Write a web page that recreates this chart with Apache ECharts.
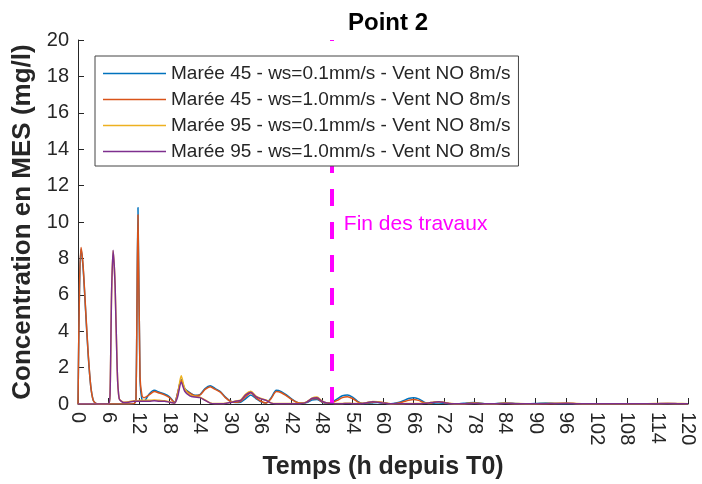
<!DOCTYPE html>
<html><head><meta charset="utf-8">
<script src="https://cdn.jsdelivr.net/npm/echarts@6/dist/echarts.min.js"></script>
<style>html,body{margin:0;padding:0;background:#fff}#c{width:702px;height:484px}</style>
</head><body><div id="c"></div>
<script>
const title = 'Point 2';
const xName = 'Temps (h depuis T0)';
const yName = 'Concentration en MES (mg/l)';
const seriesNames = [
  'Marée 45 - ws=0.1mm/s - Vent NO 8m/s',
  'Marée 45 - ws=1.0mm/s - Vent NO 8m/s',
  'Marée 95 - ws=0.1mm/s - Vent NO 8m/s',
  'Marée 95 - ws=1.0mm/s - Vent NO 8m/s'
];
const finTravauxHour = 50;
const finTravauxLabel = 'Fin des travaux';
const finLabelPos = [52.3, 9.9];

const hours = [
  0,0.3,0.6,1,1.5,2,2.5,3,3.5,4,
  5,6,6.3,6.6,6.9,7.3,7.7,8.1,9,10,11,
  11.4,11.8,12.2,12.6,13,
  14,15,16,17,18,19,
  19.6,20.3,21,
  22,23,24,25,26,27,28,29,30,31,
  32,33,34,35,36,37,38,39,40,41,
  42,43,44,45,46,47,48,49,50,51,
  52,53,54,55,56,57,58,59,60,61,
  62,63,64,65,66,67,68,69,70,71,
  72,73,74,75,76,77,78,79,80,
  82,84,86,88,90,92,94,96,98,100,
  102,104,106,108,110,112,114,116,118,120
];

const m45ws01 = [
  0,6.4,8.5,7.5,5.1,2.7,1.0,0.2,0.03,0,
  0,0,0,0,0,0,0,0,0,0,0.02,
  0.2,10.8,1.3,0.2,0.15,
  0.55,0.75,0.65,0.55,0.4,0.1,
  0.6,1.35,0.85,
  0.62,0.48,0.52,0.85,1.0,0.85,0.68,0.38,0.15,0.08,
  0.1,0.3,0.5,0.3,0.12,0.05,0.35,0.75,0.68,0.5,
  0.28,0.1,0.05,0.08,0.22,0.25,0.1,0.05,0.1,0.28,
  0.45,0.5,0.38,0.15,0.03,0.03,0.06,0.08,0.05,0.02,
  0.03,0.08,0.18,0.3,0.35,0.28,0.12,0.03,0.04,0.06,
  0.04,0.02,0.02,0.02,0.04,0.07,0.08,0.05,0.02,
  0.02,0.05,0.03,0.02,0.03,0.06,0.03,0.02,0.02,0.01,
  0.01,0.01,0.01,0.01,0.01,0.01,0.02,0.02,0.01,0.01
];
const m45ws10 = [
  0,6.5,8.6,7.6,5.2,2.8,1.0,0.2,0.03,0,
  0,0,0,0,0,0,0,0,0,0,0.02,
  0.2,10.4,1.5,0.45,0.35,
  0.5,0.68,0.6,0.5,0.35,0.08,
  0.6,1.3,0.8,
  0.6,0.45,0.5,0.8,0.95,0.8,0.65,0.35,0.15,0.1,
  0.15,0.4,0.62,0.35,0.15,0.05,0.3,0.68,0.62,0.45,
  0.25,0.1,0.05,0.1,0.28,0.3,0.12,0.05,0.08,0.2,
  0.35,0.4,0.3,0.12,0.03,0.05,0.1,0.12,0.08,0.03,
  0.02,0.05,0.12,0.2,0.25,0.2,0.08,0.03,0.08,0.12,
  0.08,0.02,0.01,0.01,0.02,0.04,0.05,0.03,0.01,
  0.01,0.04,0.02,0.01,0.01,0.01,0.02,0.03,0.02,0.01,
  0.01,0.01,0.01,0.01,0.01,0.02,0.02,0.01,0.01,0.01
];
const m95ws01 = [
  0,0,0,0,0,0,0,0,0,0,
  0,0,0.5,6.0,8.4,6.5,2.0,0.3,0.1,0.12,0.18,
  0.18,0.18,0.2,0.2,0.2,
  0.2,0.22,0.2,0.18,0.12,0.06,
  0.5,1.55,0.85,
  0.5,0.42,0.38,0.22,0.06,0.03,0.03,0.04,0.09,0.17,
  0.22,0.55,0.7,0.43,0.3,0.22,0.06,0.03,0.03,0.03,
  0.03,0.03,0.04,0.12,0.32,0.38,0.17,0.06,0.04,0.03,
  0.03,0.04,0.03,0.03,0.04,0.09,0.14,0.12,0.06,0.03,
  0.02,0.02,0.02,0.03,0.03,0.03,0.04,0.07,0.11,0.13,
  0.09,0.04,0.02,0.02,0.02,0.03,0.04,0.03,0.02,
  0.02,0.04,0.03,0.02,0.02,0.03,0.04,0.05,0.03,0.02,
  0.02,0.02,0.02,0.02,0.02,0.02,0.03,0.04,0.03,0.02
];
const m95ws10 = [
  0,0,0,0,0,0,0,0,0,0,
  0,0,0.5,6.0,8.45,6.5,2.0,0.3,0.08,0.1,0.15,
  0.15,0.15,0.15,0.15,0.15,
  0.15,0.18,0.15,0.15,0.1,0.05,
  0.4,1.2,0.7,
  0.45,0.38,0.35,0.2,0.05,0.02,0.02,0.03,0.08,0.15,
  0.2,0.5,0.65,0.4,0.28,0.2,0.05,0.02,0.02,0.02,
  0.02,0.02,0.03,0.1,0.3,0.35,0.15,0.05,0.03,0.02,
  0.02,0.03,0.02,0.02,0.03,0.08,0.12,0.1,0.05,0.02,
  0.01,0.01,0.01,0.02,0.02,0.02,0.03,0.06,0.1,0.12,
  0.08,0.03,0.01,0.01,0.01,0.02,0.03,0.02,0.01,
  0.01,0.03,0.02,0.01,0.01,0.02,0.03,0.04,0.02,0.01,
  0.01,0.01,0.01,0.01,0.01,0.01,0.02,0.03,0.02,0.01
];

const colors = ['#0072BD','#D95319','#EDB120','#7E2F8E'];
const allValues = [m45ws01, m45ws10, m95ws01, m95ws10];
const FONT = '"Liberation Sans", Arial, sans-serif';
const TXT = '#262626';

const series = allValues.map((vals, k) => ({
  name: seriesNames[k],
  type: 'line',
  data: hours.map((h, i) => [h, vals[i]]),
  showSymbol: false,
  symbol: 'none',
  smooth: 0.25,
  lineStyle: { width: 1.5, color: colors[k] },
  itemStyle: { color: colors[k] },
  z: 2 + k
}));

series.push({
  type: 'line',
  data: [],
  silent: true,
  z: 1,
  markLine: {
    silent: true,
    symbol: ['none','none'],
    lineStyle: { color: '#FF00FF', width: 4, type: [17, 16] },
    label: { show: false },
    data: [[ { coord: [finTravauxHour, 0] }, { coord: [finTravauxHour, 20] } ]]
  },
  markPoint: {
    silent: true,
    symbol: 'circle',
    symbolSize: 0,
    data: [{ coord: finLabelPos }],
    label: {
      show: true, position: 'right', distance: 0,
      formatter: finTravauxLabel,
      color: '#FF00FF', fontSize: 21, fontFamily: FONT
    }
  }
});

const chart = echarts.init(document.getElementById('c'), null, { renderer: 'canvas' });
chart.setOption({
  animation: false,
  backgroundColor: '#fff',
  color: colors,
  title: {
    text: title, left: 383, top: 6, textAlign: 'center',
    textStyle: { fontFamily: FONT, fontWeight: 'bold', fontSize: 24, color: '#000' }
  },
  legend: {
    orient: 'vertical',
    left: 95, top: 56,
    zlevel: 1, z: 20,
    padding: [8, 8, 5, 8],
    itemGap: 7,
    itemWidth: 63, itemHeight: 1.4,
    backgroundColor: '#fff',
    borderColor: '#444', borderWidth: 1,
    data: seriesNames.map((n, k) => ({
      name: n, icon: 'rect',
      itemStyle: { color: colors[k], borderWidth: 0, opacity: 1 }
    })),
    textStyle: { fontFamily: FONT, fontSize: 19, color: TXT, lineHeight: 19 }
  },
  grid: { left: 78, right: 14, top: 40, bottom: 80, outerBoundsMode: 'none', containLabel: false },
  xAxis: {
    type: 'value', min: 0, max: 120, interval: 6,
    name: xName, nameLocation: 'middle', nameGap: 51,
    nameTextStyle: { fontFamily: FONT, fontWeight: 'bold', fontSize: 25, color: TXT },
    axisLine: { show: true, onZero: false, lineStyle: { color: TXT, width: 1 } },
    axisTick: { show: true, inside: true, length: 6, lineStyle: { color: TXT } },
    axisLabel: { rotate: -90, margin: 8, fontFamily: FONT, fontSize: 20, color: TXT },
    splitLine: { show: false }
  },
  yAxis: {
    type: 'value', min: 0, max: 20, interval: 2,
    name: yName, nameLocation: 'middle', nameGap: 34,
    nameTextStyle: { fontFamily: FONT, fontWeight: 'bold', fontSize: 26, color: TXT },
    axisLine: { show: true, lineStyle: { color: TXT, width: 1 } },
    axisTick: { show: true, inside: true, length: 6, lineStyle: { color: TXT } },
    axisLabel: { margin: 9, fontFamily: FONT, fontSize: 20, color: TXT },
    splitLine: { show: false }
  },
  series: series
});
</script></body></html>
